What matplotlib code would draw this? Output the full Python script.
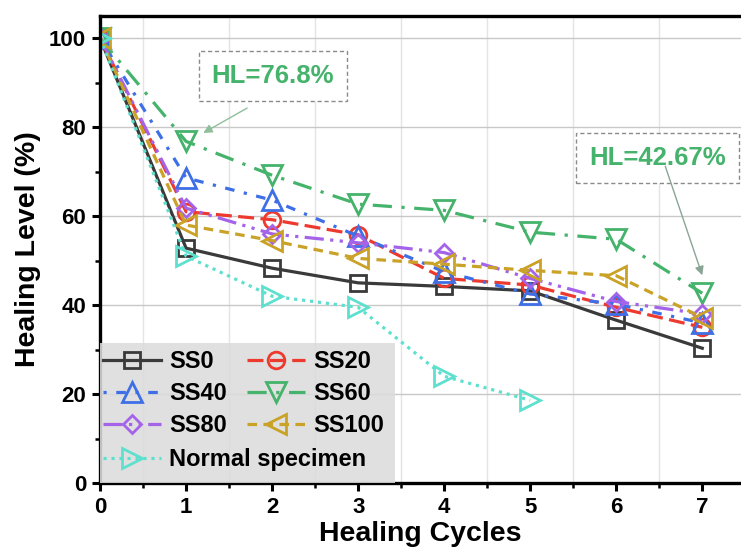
import matplotlib
matplotlib.use("Agg")
import matplotlib.pyplot as plt
from matplotlib.patches import Rectangle
from matplotlib.ticker import MultipleLocator

plt.rcParams['font.family'] = ['Liberation Sans', 'DejaVu Sans']
plt.rcParams['font.weight'] = 'bold'

cycles = [0, 1, 2, 3, 4, 5, 6, 7]
cycles_normal = [0, 1, 2, 3, 4, 5]

ss0 = [100, 52.8, 48.3, 45.0, 44.2, 43.2, 36.6, 30.3]
ss20 = [100, 61.0, 59.2, 55.8, 46.0, 44.5, 39.5, 35.0]
ss40 = [100, 68.6, 63.6, 55.5, 47.5, 42.5, 40.2, 36.0]
ss60 = [100, 76.8, 69.2, 62.7, 61.3, 56.4, 54.8, 42.67]
ss80 = [100, 61.8, 56.0, 54.0, 51.8, 46.0, 40.8, 38.0]
ss100 = [100, 58.0, 54.5, 50.5, 49.2, 47.8, 46.6, 37.2]
normal = [100, 51.0, 42.0, 39.5, 24.0, 18.6]

fig = plt.figure(figsize=(7.41, 5.49), dpi=100)
ax = fig.add_axes([0.135, 0.1202, 0.865, 0.8507])

lw = 2.3
mew = 2.0

l0, = ax.plot(cycles, ss0, color='#3a3a3a', ls='-', lw=lw, marker='s', ms=11.5,
              mfc='none', mew=mew, label='SS0')
l20, = ax.plot(cycles, ss20, color='#ec3a2e', ls=(0, (5, 2)), lw=lw, marker='o', ms=12,
               mfc='none', mew=mew, label='SS20')
l40, = ax.plot(cycles, ss40, color='#3f6fe6', ls=(0, (1, 3, 3, 3)), lw=lw, marker='^', ms=15,
               mfc='none', mew=mew, label='SS40')
l60, = ax.plot(cycles, ss60, color='#45b36b', ls=(0, (6, 3, 1, 3)), lw=lw, marker='v', ms=15,
               mfc='none', mew=mew, label='SS60')
l80, = ax.plot(cycles, ss80, color='#a463e8', ls=(0, (6, 2, 1, 2, 1, 2)), lw=lw, marker='D', ms=9.5,
               mfc='none', mew=mew, label='SS80')
l100, = ax.plot(cycles, ss100, color='#c9a227', ls=(0, (3, 2)), lw=lw, marker='<', ms=15,
                mfc='none', mew=mew, label='SS100')
ln, = ax.plot(cycles_normal, normal, color='#5fe0cf', ls=(0, (1, 1.5)), lw=lw, marker='>', ms=15,
              mfc='none', mew=mew, label='Normal specimen')

ax.set_xlim(0, 7.45)
ax.set_ylim(0, 105)
ax.xaxis.set_major_locator(MultipleLocator(1))
ax.xaxis.set_minor_locator(MultipleLocator(0.5))
ax.yaxis.set_major_locator(MultipleLocator(20))
ax.yaxis.set_minor_locator(MultipleLocator(10))
ax.grid(True, which='major', axis='y', color='#c8c8c8', lw=1)
ax.grid(True, which='minor', axis='x', color='#e4e4e4', lw=1)
ax.set_axisbelow(True)

for side in ['left', 'bottom', 'top']:
    ax.spines[side].set_linewidth(2.4)
ax.spines['right'].set_visible(False)
ax.tick_params(which='major', direction='out', length=6, width=2.2, labelsize=16, pad=4)
ax.tick_params(which='minor', direction='out', length=3.5, width=1.8)

ax.set_xlabel('Healing Cycles', fontsize=20.5, fontweight='bold', labelpad=2)
ax.set_ylabel('Healing Level (%)', fontsize=20.5, fontweight='bold', labelpad=6)

# HL callouts on the SS60 curve
green = '#45b36b'
box = dict(boxstyle='square,pad=0.5', fc='white', ec='#8a8a8a', ls=(0, (3, 2)), lw=1)
ax.text(2.01, 91.5, 'HL=76.8%', fontsize=18.5, color=green, fontweight='bold',
        ha='center', va='center', bbox=box)
ax.annotate('', xy=(1.2, 78.7), xytext=(1.71, 84.3),
            arrowprops=dict(arrowstyle='-|>', color='#8fbf9a', lw=1.0,
                            shrinkA=0, shrinkB=0, mutation_scale=13))
ax.text(6.48, 73.0, 'HL=42.67%', fontsize=18.5, color=green, fontweight='bold',
        ha='center', va='center', bbox=box)
ax.annotate('', xy=(7.0, 46.7), xytext=(6.57, 71.2),
            arrowprops=dict(arrowstyle='-|>', color='#8aa595', lw=1.0,
                            shrinkA=0, shrinkB=0, mutation_scale=13))

# legend: gray panel with two stacked legends so the long label spans both columns
ax.add_patch(Rectangle((0, 0), 0.46, 0.30, transform=ax.transAxes, fc='#dcdcdc',
                       ec='none', alpha=0.88, zorder=4))
leg_kw = dict(frameon=False, handlelength=2.45, handletextpad=0.35, columnspacing=0.85,
              labelspacing=0.38, borderpad=0, borderaxespad=0, numpoints=1,
              prop=dict(weight='bold', size=17))
leg1 = ax.legend(handles=[l0, l40, l80, l20, l60, l100], loc='upper left',
                 bbox_to_anchor=(0.005, 0.285), ncol=2, **leg_kw)
leg1.set_zorder(5)
ax.add_artist(leg1)
leg2 = ax.legend(handles=[ln], loc='upper left', bbox_to_anchor=(0.005, 0.074), **leg_kw)
leg2.set_zorder(5)

fig.savefig('out.png', dpi=100)
